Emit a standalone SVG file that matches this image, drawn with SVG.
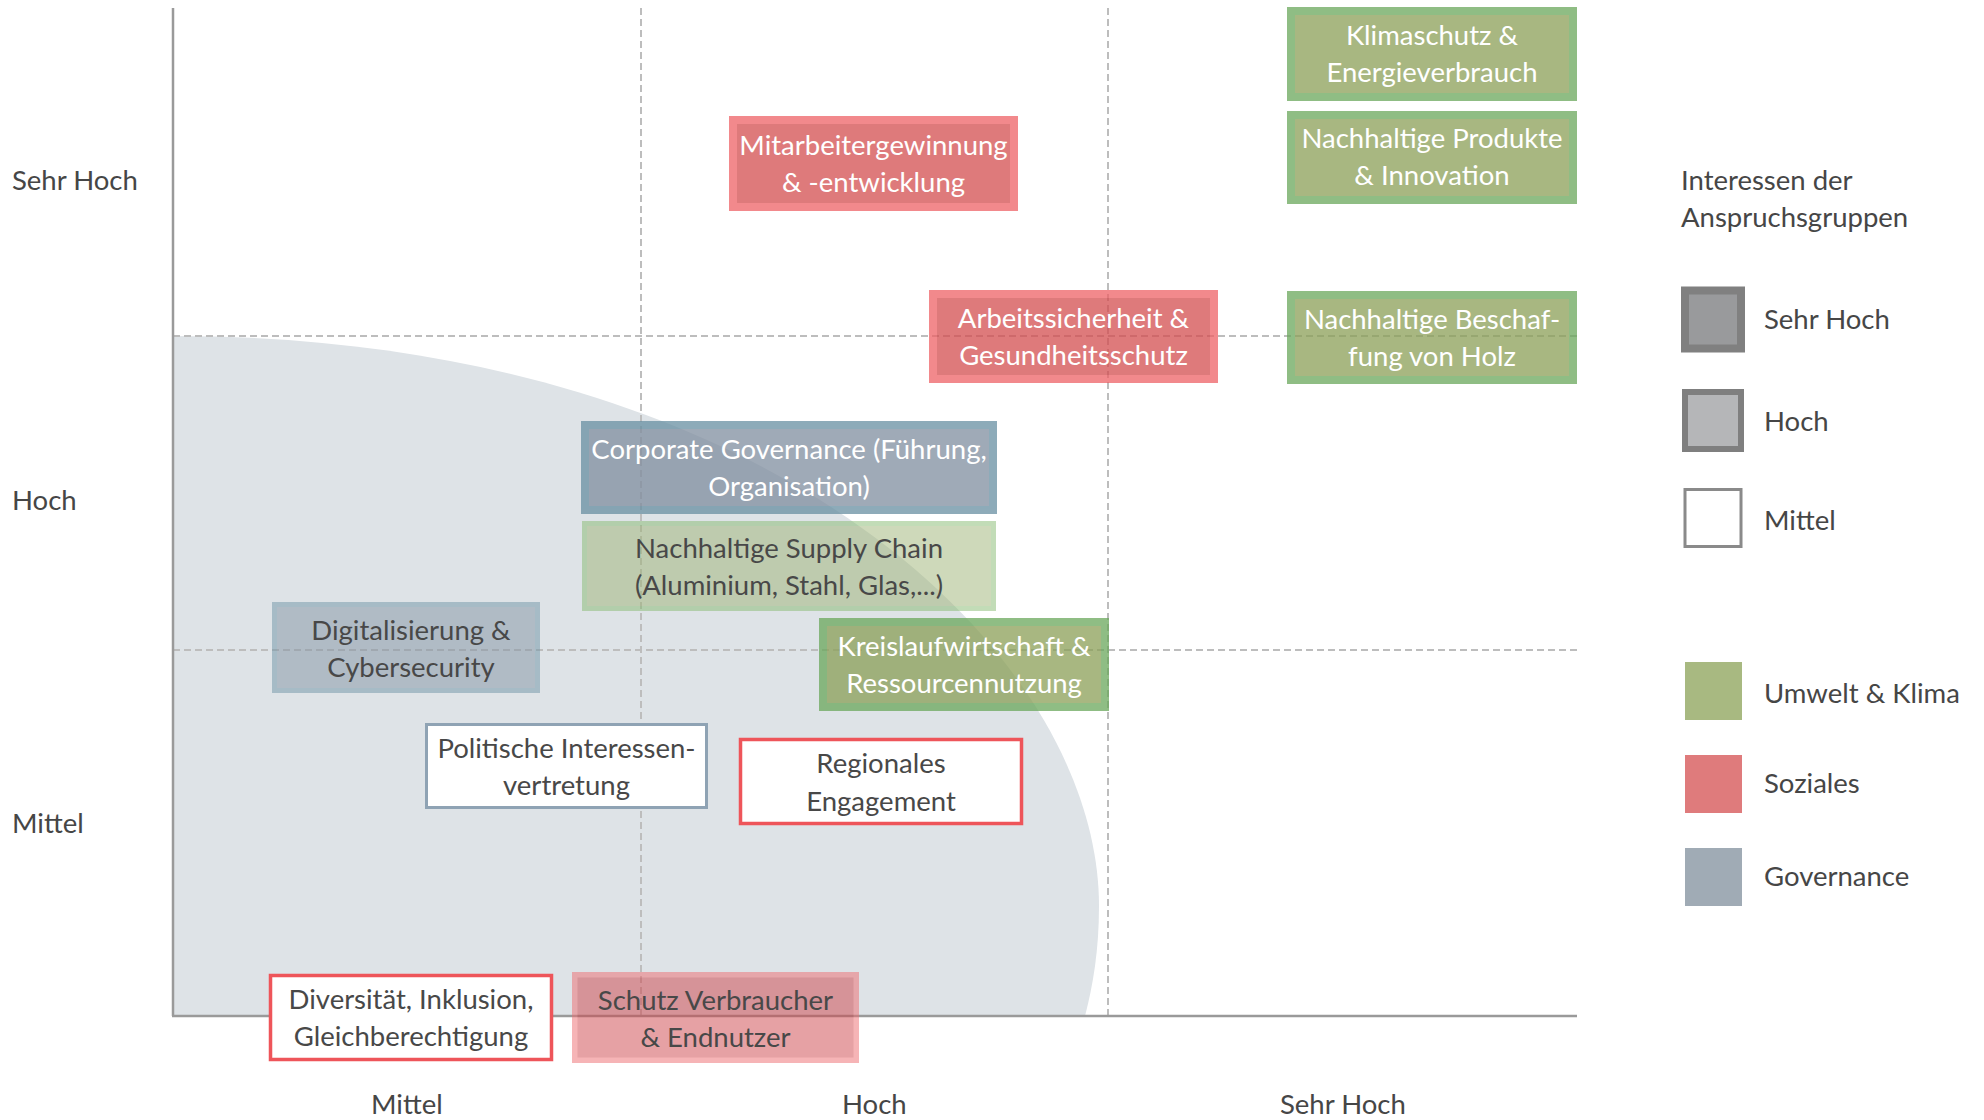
<svg xmlns="http://www.w3.org/2000/svg" width="1984" height="1120" viewBox="0 0 1984 1120">
<style>
text{font-family:Lato,"Noto Sans","Liberation Sans",sans-serif;font-size:27.5px}
.lbl{fill:#464646}
.w{fill:#ffffff;text-anchor:middle}
.d{fill:#484848;text-anchor:middle}
.sh{opacity:.75}
.hh{opacity:.5}
.gb{fill:#6aa75b}.gi{fill:#8ba058}
.rb{fill:#ee6266}.ri{fill:#d44e50}
.bb{fill:#688fa2}.bi{fill:#808e9f}
.gbh{fill:#87bb71}.gih{fill:#9fb577}
.rbh{fill:#ef6b6f}.rih{fill:#cf454b}
.bbh{fill:#7095a7}.bih{fill:#8495a5}
.mr{fill:#fff;stroke:#ee555a;stroke-width:3.5}
.mb{fill:#fff;stroke:#8fa3b4;stroke-width:3}
.dash{stroke:#bdbdbd;stroke-width:2;stroke-dasharray:7 4;fill:none}
.axis{stroke:#9a9a9a;stroke-width:2.5;fill:none}
</style>
<rect width="1984" height="1120" fill="#fff"/>
<g id="background">
<path d="M173,336 C773,336 1099,656 1099,906 C1099,950 1093,985 1085,1016 L173,1016 Z" fill="#dee3e7"/>
</g>
<g id="grid">
<line class="dash" x1="173" y1="336" x2="1577" y2="336"/>
<line class="dash" x1="173" y1="650" x2="1577" y2="650"/>
<line class="dash" x1="641" y1="8" x2="641" y2="1016"/>
<line class="dash" x1="1108" y1="8" x2="1108" y2="1016"/>
<line class="axis" x1="173" y1="8" x2="173" y2="1016"/>
<line class="axis" x1="172" y1="1016" x2="1577" y2="1016"/>
</g>
<g id="axis-labels">
<text class="lbl" x="12" y="190">Sehr Hoch</text>
<text class="lbl" x="12" y="510">Hoch</text>
<text class="lbl" x="12" y="833">Mittel</text>
<text class="lbl" x="371" y="1114">Mittel</text>
<text class="lbl" x="842" y="1114">Hoch</text>
<text class="lbl" x="1280" y="1114">Sehr Hoch</text>
</g>
<g id="n-klima">
<g class="sh"><rect class="gb" x="1287" y="7" width="290" height="94"/><rect class="gi" x="1295" y="15" width="274" height="78"/></g>
<text class="w" x="1432" y="45">Klimaschutz &amp;</text><text class="w" x="1432" y="82">Energieverbrauch</text>
</g>
<g id="n-produkte">
<g class="sh"><rect class="gb" x="1287" y="111" width="290" height="93"/><rect class="gi" x="1295" y="119" width="274" height="77"/></g>
<text class="w" x="1432" y="148">Nachhaltige Produkte</text><text class="w" x="1432" y="185">&amp; Innovation</text>
</g>
<g id="n-mitarbeiter">
<g class="sh"><rect class="rb" x="729" y="116" width="289" height="95"/><rect class="ri" x="737" y="124" width="273" height="79"/></g>
<text class="w" x="873.5" y="155">Mitarbeitergewinnung</text><text class="w" x="873.5" y="192">&amp; -entwicklung</text>
</g>
<g id="n-arbeit">
<g class="sh"><rect class="rb" x="929" y="290" width="289" height="93"/><rect class="ri" x="937" y="298" width="273" height="77"/></g>
<text class="w" x="1073.5" y="328">Arbeitssicherheit &amp;</text><text class="w" x="1073.5" y="365">Gesundheitsschutz</text>
</g>
<g id="n-holz">
<g class="sh"><rect class="gb" x="1287" y="291" width="290" height="93"/><rect class="gi" x="1295" y="299" width="274" height="77"/></g>
<text class="w" x="1432" y="329">Nachhaltige Beschaf-</text><text class="w" x="1432" y="366">fung von Holz</text>
</g>
<g id="n-corporate">
<g class="sh"><rect class="bb" x="581" y="421" width="416" height="93"/><rect class="bi" x="589" y="429" width="400" height="77"/></g>
<text class="w" x="789" y="459">Corporate Governance (Führung,</text><text class="w" x="789" y="496">Organisation)</text>
</g>
<g id="n-supply">
<g class="hh"><rect class="gbh" x="582" y="521" width="414" height="90"/><rect class="gih" x="587" y="526" width="404" height="80"/></g>
<text class="d" x="789" y="558">Nachhaltige Supply Chain</text><text class="d" x="789" y="595">(Aluminium, Stahl, Glas,...)</text>
</g>
<g id="n-digital">
<g class="hh"><rect class="bbh" x="272" y="602" width="268" height="91"/><rect class="bih" x="277" y="607" width="258" height="81"/></g>
<text class="d" x="411" y="640">Digitalisierung &amp;</text><text class="d" x="411" y="677">Cybersecurity</text>
</g>
<g id="n-kreislauf">
<g class="sh"><rect class="gb" x="819" y="618" width="290" height="93"/><rect class="gi" x="827" y="626" width="274" height="77"/></g>
<text class="w" x="964" y="656">Kreislaufwirtschaft &amp;</text><text class="w" x="964" y="693">Ressourcennutzung</text>
</g>
<g id="n-politik">
<rect class="mb" x="426.5" y="724.5" width="280" height="83"/>
<text class="d" x="566.5" y="758">Politische Interessen-</text><text class="d" x="566.5" y="795">vertretung</text>
</g>
<g id="n-regional">
<rect class="mr" x="740.5" y="739.5" width="281" height="84"/>
<text class="d" x="881" y="773">Regionales</text><text class="d" x="881" y="811">Engagement</text>
</g>
<g id="n-diversitaet">
<rect class="mr" x="270.5" y="975.5" width="281" height="84"/>
<text class="d" x="411" y="1009">Diversität, Inklusion,</text><text class="d" x="411" y="1046">Gleichberechtigung</text>
</g>
<g id="n-schutz">
<g class="hh"><rect class="rbh" x="572" y="972" width="287" height="91"/><rect class="rih" x="577.5" y="977.5" width="276" height="80"/></g>
<text class="d" x="715.5" y="1010">Schutz Verbraucher</text><text class="d" x="715.5" y="1047">&amp; Endnutzer</text>
</g>
<g id="legend">
<text class="lbl" x="1681" y="190">Interessen der</text>
<text class="lbl" x="1681" y="227">Anspruchsgruppen</text>
<rect x="1685" y="290.5" width="56" height="58" fill="#999a9c" stroke="#808080" stroke-width="8"/>
<text class="lbl" x="1764" y="329">Sehr Hoch</text>
<rect x="1685" y="392" width="56" height="57" fill="#b5b6b8" stroke="#7f7f7f" stroke-width="6"/>
<text class="lbl" x="1764" y="431">Hoch</text>
<rect x="1685" y="489.5" width="56" height="57" fill="#ffffff" stroke="#8a8a8a" stroke-width="3"/>
<text class="lbl" x="1764" y="530">Mittel</text>
<rect x="1685" y="662" width="57" height="58" fill="#a8b981"/>
<text class="lbl" x="1764" y="703">Umwelt &amp; Klima</text>
<rect x="1685" y="755" width="57" height="58" fill="#df7b7c"/>
<text class="lbl" x="1764" y="793">Soziales</text>
<rect x="1685" y="848" width="57" height="58" fill="#a0abb5"/>
<text class="lbl" x="1764" y="886">Governance</text>
</g>
</svg>
